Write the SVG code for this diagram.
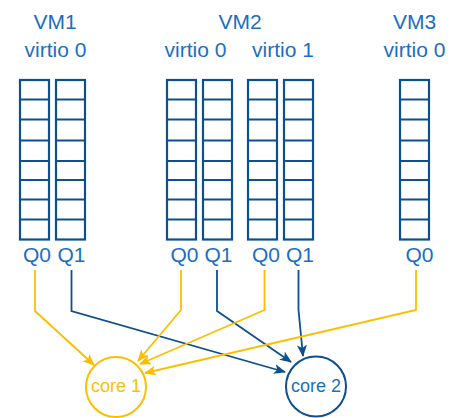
<svg xmlns="http://www.w3.org/2000/svg" width="464" height="418" viewBox="0 0 464 418">
<defs>
<style>
.lbl{font-family:"Liberation Sans",Arial,sans-serif;font-size:21px;fill:#1b6ec2;text-anchor:middle}
.core{font-family:"Liberation Sans",Arial,sans-serif;font-size:18px;text-anchor:middle}
.q{fill:#fff;stroke:#0d4f8f;stroke-width:2.2}
.row{stroke:#0d4f8f;stroke-width:2.2;fill:none}
.cb{fill:none;stroke:#0d4f8f;stroke-width:1.8}
.co{fill:none;stroke:#fbbf00;stroke-width:1.8}
</style>
<marker id="ab" viewBox="0 0 12 10" refX="11" refY="5" markerWidth="12" markerHeight="10" markerUnits="userSpaceOnUse" orient="auto">
<path d="M0,0 L12,5 L0,10 L3,5 z" fill="#0d4f8f"/>
</marker>
<marker id="ao" viewBox="0 0 12 10" refX="11" refY="5" markerWidth="12" markerHeight="10" markerUnits="userSpaceOnUse" orient="auto">
<path d="M0,0 L12,5 L0,10 L3,5 z" fill="#fbbf00"/>
</marker>
<g id="queue">
<rect class="q" x="0" y="80" width="29" height="159.5"/>
<path class="row" d="M0,99.5H29M0,119.5H29M0,140.5H29M0,161H29M0,180H29M0,199.5H29M0,219.5H29"/>
</g>
</defs>

<g id="vm1">
<text class="lbl" x="55" y="29">VM1</text>
<text class="lbl" x="55.5" y="56.5">virtio 0</text>
<use href="#queue" x="20"/>
<use href="#queue" x="56"/>
<text class="lbl" x="37" y="262">Q0</text>
<text class="lbl" x="71.5" y="262">Q1</text>
</g>

<g id="vm2">
<text class="lbl" x="240" y="29">VM2</text>
<text class="lbl" x="195.5" y="56.5">virtio 0</text>
<text class="lbl" x="283" y="56.5">virtio 1</text>
<use href="#queue" x="167"/>
<use href="#queue" x="203"/>
<use href="#queue" x="248"/>
<use href="#queue" x="284"/>
<text class="lbl" x="184.5" y="262">Q0</text>
<text class="lbl" x="218.5" y="262">Q1</text>
<text class="lbl" x="266" y="262">Q0</text>
<text class="lbl" x="300" y="262">Q1</text>
</g>

<g id="vm3">
<text class="lbl" x="414.5" y="29">VM3</text>
<text class="lbl" x="414.5" y="56.5">virtio 0</text>
<use href="#queue" x="400"/>
<text class="lbl" x="419.5" y="262">Q0</text>
</g>

<g id="connectors">
<path class="co" d="M35,270 V311 L94,365" marker-end="url(#ao)"/>
<path class="cb" d="M71.5,270 V311 L285,372" marker-end="url(#ab)"/>
<path class="co" d="M181,270 V310 L138,361" marker-end="url(#ao)"/>
<path class="cb" d="M217,270 V311 L291,362" marker-end="url(#ab)"/>
<path class="co" d="M264.5,270 V310 L140,364" marker-end="url(#ao)"/>
<path class="cb" d="M298.5,270 V310 L303,356" marker-end="url(#ab)"/>
<path class="co" d="M416,270 V310 L145,373" marker-end="url(#ao)"/>
</g>

<g id="core1">
<circle cx="116" cy="387" r="30" fill="none" stroke="#fbbf00" stroke-width="2"/>
<text class="core" x="116" y="392" fill="#fbbf00">core 1</text>
</g>
<g id="core2">
<circle cx="316" cy="386.5" r="30" fill="none" stroke="#0d4f8f" stroke-width="2"/>
<text class="core" x="316" y="392" fill="#1b6ec2">core 2</text>
</g>
</svg>
